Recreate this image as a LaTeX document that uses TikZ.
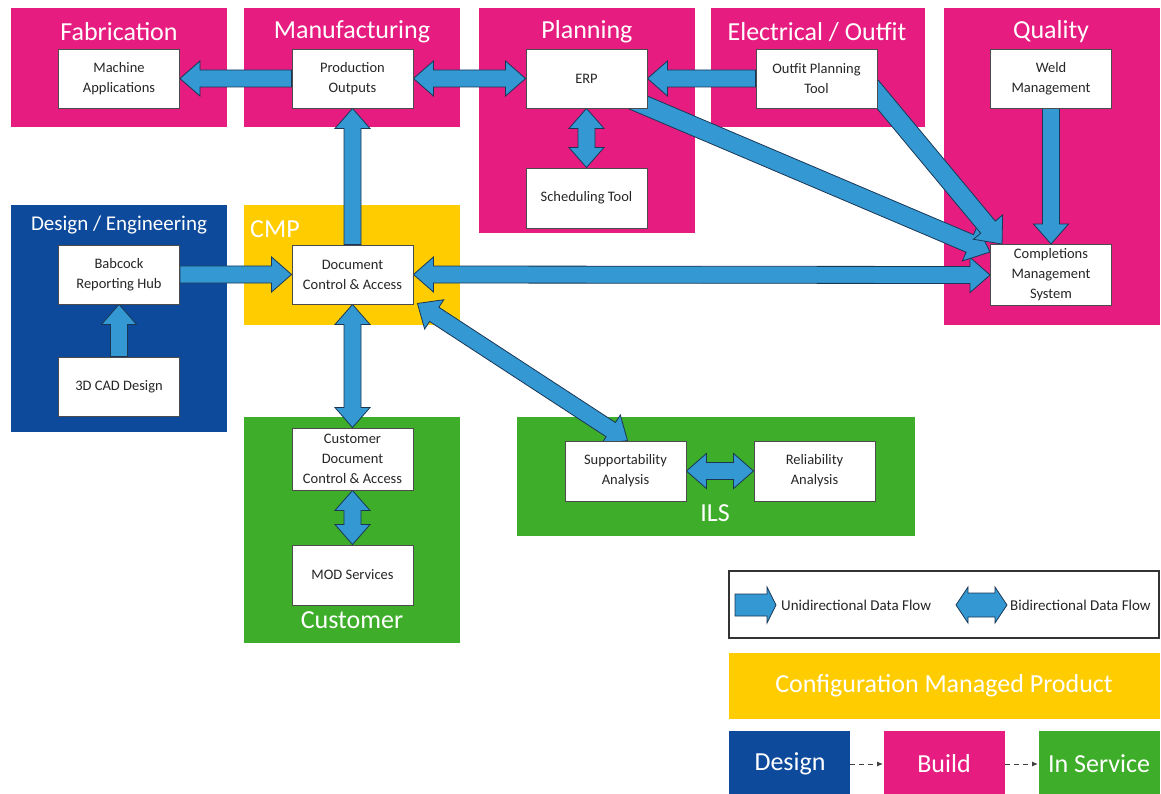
\documentclass[tikz,border=0pt]{standalone}
\usepackage{fontspec}
\setmainfont{Carlito}
\usetikzlibrary{calc,arrows.meta}
\pgfdeclarelayer{bg}
\pgfdeclarelayer{arr}
\pgfsetlayers{bg,arr,main}
\definecolor{cpink}{RGB}{230,28,128}
\definecolor{cblue}{RGB}{14,74,156}
\definecolor{cyellow}{RGB}{255,204,0}
\definecolor{cgreen}{RGB}{62,173,42}
\definecolor{carrow}{RGB}{52,152,210}
\definecolor{cline}{RGB}{25,55,85}
\def\sw{8.5pt}\def\hw{17.5pt}\def\hl{20pt}
\newcommand{\flowone}[2]{%
 \coordinate (fA) at (#1); \coordinate (fB) at (#2);
 \coordinate (fC) at ($(fB)!\hl!(fA)$);
 \filldraw[flowarrow] ($(fA)!\sw!90:(fB)$) -- ($(fC)!\sw!90:(fB)$) -- ($(fC)!\hw!90:(fB)$) -- (fB) -- ($(fC)!\hw!-90:(fB)$) -- ($(fC)!\sw!-90:(fB)$) -- ($(fA)!\sw!-90:(fB)$) -- cycle;}
\newcommand{\flowtwo}[2]{%
 \coordinate (fA) at (#1); \coordinate (fB) at (#2);
 \coordinate (fC) at ($(fB)!\hl!(fA)$);
 \coordinate (fD) at ($(fA)!\hl!(fB)$);
 \filldraw[flowarrow] (fA) -- ($(fD)!\hw!90:(fB)$) -- ($(fD)!\sw!90:(fB)$) -- ($(fC)!\sw!90:(fB)$) -- ($(fC)!\hw!90:(fB)$) -- (fB) -- ($(fC)!\hw!-90:(fB)$) -- ($(fC)!\sw!-90:(fB)$) -- ($(fD)!\sw!-90:(fB)$) -- ($(fD)!\hw!-90:(fB)$) -- cycle;}
\tikzset{
 flowarrow/.style={fill=carrow, draw=cline, line width=0.8pt, line join=miter},
 box/.style={draw=black!70, fill=white, line width=0.9pt, minimum width=121pt, minimum height=59pt, align=center, inner sep=0pt, text=black!85, font=\fontsize{14.5}{20}\selectfont},
 title/.style={text=white, inner sep=0pt, font=\fontsize{26}{30}\selectfont},
 legtext/.style={text=black!85, inner sep=0pt, anchor=west, font=\fontsize{15}{18}\selectfont},
 phase/.style={dashed, dash pattern=on 5pt off 4pt, draw=black!75, line width=1pt, -{Latex[length=6pt,width=5pt]}}
}
\begin{document}
\begin{tikzpicture}[x=1pt,y=-1pt]
\useasboundingbox (0,0) rectangle (1161,794);
% region backgrounds
\begin{pgfonlayer}{bg}
\fill[white] (0,0) rectangle (1161,794);
\fill[cpink] (11,8) rectangle (227,127);
\fill[cpink] (244,8) rectangle (460,127);
\fill[cpink] (479,8) rectangle (695,233);
\fill[cpink] (711,8) rectangle (925,127);
\fill[cpink] (944,8) rectangle (1160,325);
\fill[cblue] (11,205) rectangle (227,432);
\fill[cyellow] (244,205) rectangle (460,325);
\fill[cgreen] (244,417) rectangle (460,643);
\fill[cgreen] (517,417) rectangle (915,536);
\draw[black!80, line width=1.2pt, fill=white] (729,571) rectangle (1159,638);
\fill[cyellow] (729,653) rectangle (1160,719);
\fill[cblue] (729,731) rectangle (850,794);
\fill[cpink] (884,731) rectangle (1005,794);
\fill[cgreen] (1039,731) rectangle (1160,794);
\end{pgfonlayer}
% titles
\node[title] (tfab) at (119,32) {Fabrication};
\node[title] (tman) at (352,32) {Manufacturing};
\node[title] (tpla) at (587,32) {Planning};
\node[title] (tele) at (817,32) {Electrical / Outfit};
\node[title] (tqua) at (1051,32) {Quality};
\node[title, font=\fontsize{21}{25}\selectfont] (tdes) at (119,225) {Design / Engineering};
\node[title, anchor=west] (tcmp) at (250,229) {CMP};
\node[title] (tils) at (715,513) {ILS};
\node[title] (tcus) at (352,620) {Customer};
\node[title] (tcmpl) at (944,686) {Configuration Managed Product};
\node[title] (pdes) at (790,764) {Design};
\node[title] (pbui) at (944,764) {Build};
\node[title] (pins) at (1099,764) {In Service};
% boxes
\node[box] (ma) at (119,78.5) {Machine\\Applications};
\node[box] (po) at (352.5,78.5) {Production\\Outputs};
\node[box] (erp) at (586.5,78.5) {ERP};
\node[box] (opt) at (816.5,78.5) {Outfit Planning\\Tool};
\node[box] (wm) at (1051,78.5) {Weld\\Management};
\node[box, minimum height=60pt] (st) at (586.5,198) {Scheduling Tool};
\node[box] (brh) at (119,274.5) {Babcock\\Reporting Hub};
\node[box] (cad) at (119,386.5) {3D CAD Design};
\node[box] (dca) at (352.5,274.5) {Document\\Control \& Access};
\node[box, minimum height=61pt] (cms) at (1051,275) {Completions\\Management\\System};
\node[box, minimum height=62pt] (cdca) at (352.5,459) {Customer\\Document\\Control \& Access};
\node[box, minimum height=60pt] (mod) at (352.5,575) {MOD Services};
\node[box, minimum height=60pt] (sa) at (625.5,471) {Supportability\\Analysis};
\node[box, minimum height=60pt] (ra) at (814.5,471) {Reliability\\Analysis};
% legend texts
\node[legtext] (lu) at (781,605) {Unidirectional Data Flow};
\node[legtext] (lb) at (1010,605) {Bidirectional Data Flow};
% arrows
\begin{pgfonlayer}{arr}
\flowone{po.west}{ma.east}
\flowtwo{po.east}{erp.west}
\flowone{opt.west}{erp.east}
\flowtwo{erp.south}{st.north}
\flowone{dca.north}{po.south}
\flowone{brh.east}{dca.west}
\flowone{cad.north}{brh.south}
\flowtwo{dca.east}{cms.west}
\def\sw{9.5pt}\def\hw{19pt}\def\hl{22pt}
\flowone{$(erp.center)!0.5!(erp.south east)$}{$(cms.north west)+(0,8)$}
\flowone{$(opt.east)+(-8,6)$}{$(cms.north west)+(12,0)$}
\def\sw{8.5pt}\def\hw{17.5pt}\def\hl{20pt}
\flowone{wm.south}{cms.north}
\flowtwo{$(dca.south east)+(4,-1)$}{$(sa.north)+(2,0)$}
\flowtwo{dca.south}{cdca.north}
\flowtwo{cdca.south}{mod.north}
\flowtwo{sa.east}{ra.west}
\end{pgfonlayer}
% legend icons
\coordinate (lua) at (735,605);
\coordinate (lub) at (776,605);
\coordinate (lba) at (956,605);
\coordinate (lbb) at (1007,605);
\begingroup
\def\sw{11pt}\def\hw{18pt}\def\hl{9pt}
\flowone{lua}{lub}
\def\sw{12pt}\def\hw{18pt}\def\hl{12pt}
\flowtwo{lba}{lbb}
\endgroup
% phase arrows
\draw[phase] (pdes.east -| 850,0) -- (pbui.west -| 883,0);
\draw[phase] (pbui.east -| 1005,0) -- (pins.west -| 1038,0);
\end{tikzpicture}
\end{document}
